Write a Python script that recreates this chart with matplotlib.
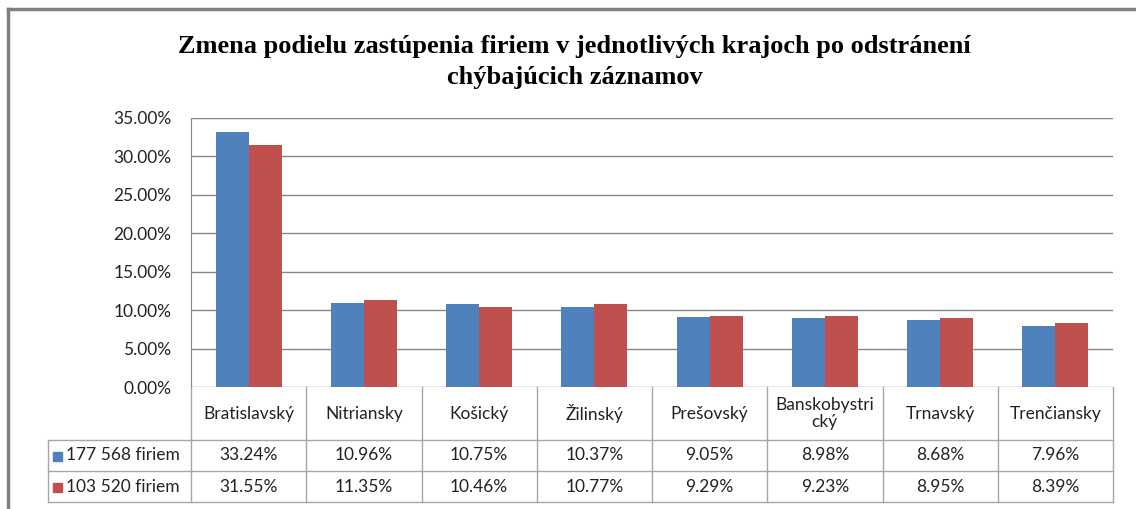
import numpy as np
import matplotlib.pyplot as plt
from matplotlib.ticker import FuncFormatter
from matplotlib.transforms import blended_transform_factory
from matplotlib.patches import Rectangle

regions = ['Bratislavský', 'Nitriansky', 'Košický', 'Žilinský', 'Prešovský',
           'Banskobystri\ncký', 'Trnavský', 'Trenčiansky']
series_names = ['177 568 firiem', '103 520 firiem']
before = [33.24, 10.96, 10.75, 10.37, 9.05, 8.98, 8.68, 7.96]
after = [31.55, 11.35, 10.46, 10.77, 9.29, 9.23, 8.95, 8.39]
colors = ['#4F81BD', '#C0504D']

W, H = 1136, 509
fig = plt.figure(figsize=(W / 100, H / 100), dpi=100)


def fx(px):
    return px / W


def fy(py):
    return 1 - py / H


# plot area in pixels
left, right, top, bottom = 191, 1113, 118, 387
ax = fig.add_axes([fx(left), fy(bottom), fx(right - left), (bottom - top) / H])

grid_col = '#868686'
font = 'Lato'
fs = 12.5

x = np.arange(len(regions))
bw = 1 / 3.5
ax.bar(x - bw / 2, before, bw, color=colors[0], label=series_names[0], zorder=3)
ax.bar(x + bw / 2, after, bw, color=colors[1], label=series_names[1], zorder=3)

ax.set_xlim(-0.5, len(regions) - 0.5)
ax.set_ylim(0, 35)
ax.set_yticks(np.arange(0, 35.01, 5))
ax.yaxis.set_major_formatter(FuncFormatter(lambda v, p: f'{v:.2f}%'))
ax.set_xticks([])
ax.tick_params(axis='y', length=0, pad=14, labelsize=fs, labelcolor='#222222')
for lab in ax.get_yticklabels():
    lab.set_fontfamily(font)
ax.grid(axis='y', color=grid_col, linewidth=1, zorder=0)
for s in ['top', 'right', 'bottom']:
    ax.spines[s].set_visible(False)
ax.spines['left'].set_color(grid_col)

# data table below the plot
tr = blended_transform_factory(ax.transData, fig.transFigure)
row_y = [387, 440, 471, 502]
line_kw = dict(color='#A6A6A6', linewidth=1, clip_on=False)

fig.add_artist(plt.Line2D([fx(48), fx(right)], [fy(row_y[1])] * 2, **line_kw))
fig.add_artist(plt.Line2D([fx(48), fx(right)], [fy(row_y[2])] * 2, **line_kw))
fig.add_artist(plt.Line2D([fx(48), fx(right)], [fy(row_y[3])] * 2, **line_kw))
fig.add_artist(plt.Line2D([fx(48), fx(48)], [fy(row_y[1]), fy(row_y[3])], **line_kw))
fig.add_artist(plt.Line2D([fx(left), fx(left)], [fy(row_y[0]), fy(row_y[3])], **line_kw))
for i in range(len(regions)):
    fig.add_artist(plt.Line2D([i + 0.5, i + 0.5], [fy(row_y[0]), fy(row_y[3])],
                              transform=tr, **line_kw))

txt_col = '#222222'
for i, name in enumerate(regions):
    fig.text(i, fy((row_y[0] + row_y[1]) / 2), name, transform=tr, ha='center',
             va='center', fontsize=fs, family=font, color=txt_col, linespacing=1.05)
    fig.text(i, fy((row_y[1] + row_y[2]) / 2), f'{before[i]:.2f}%', transform=tr,
             ha='center', va='center', fontsize=fs, family=font, color=txt_col)
    fig.text(i, fy((row_y[2] + row_y[3]) / 2), f'{after[i]:.2f}%', transform=tr,
             ha='center', va='center', fontsize=fs, family=font, color=txt_col)

for k, name in enumerate(series_names):
    yc = (row_y[1 + k] + row_y[2 + k]) / 2
    fig.add_artist(Rectangle((fx(53), fy(yc + 5)), fx(9), 9 / H,
                             color=colors[k], transform=fig.transFigure))
    fig.text(fx(66), fy(yc), name, ha='left', va='center', fontsize=fs,
             family=font, color=txt_col)

# outer border of the chart
border = dict(color='#808080', linewidth=2.5)
fig.add_artist(plt.Line2D([fx(8), fx(W)], [fy(9)] * 2, **border))
fig.add_artist(plt.Line2D([fx(8), fx(8)], [fy(9), 0], **border))

fig.text(0.506, fy(62), 'Zmena podielu zastúpenia firiem v jednotlivých krajoch po odstránení\nchýbajúcich záznamov',
         ha='center', va='center', fontsize=19, fontweight='bold',
         family='Liberation Serif', linespacing=1.4)

fig.savefig('out.png', dpi=100)
